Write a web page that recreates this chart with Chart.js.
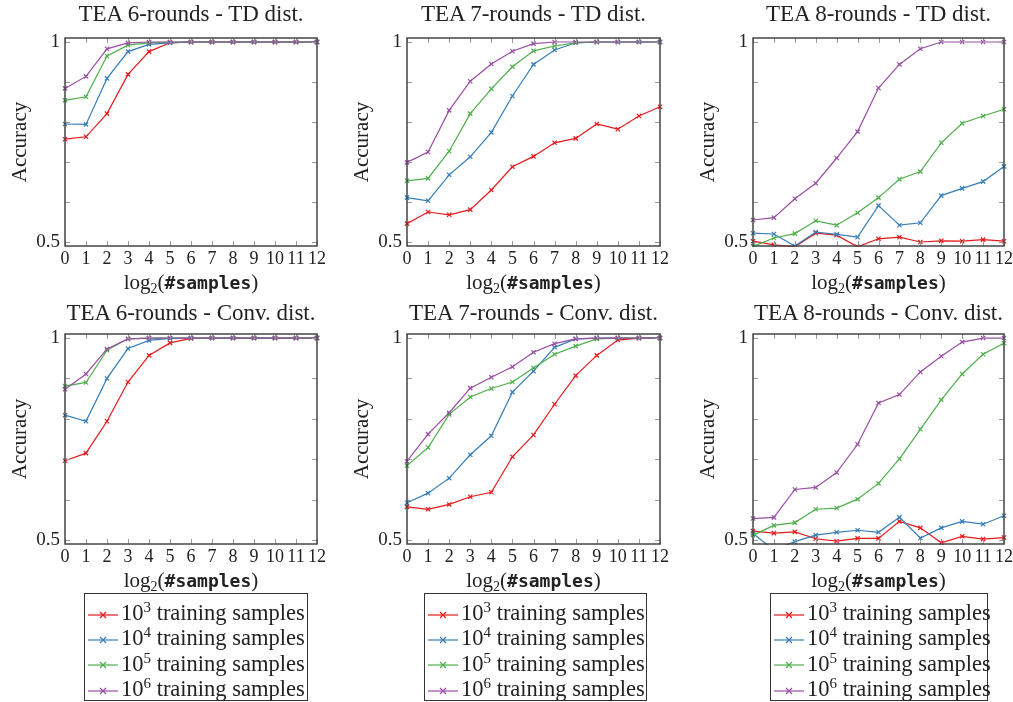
<!DOCTYPE html>
<html lang="en">
<head>
    <meta charset="UTF-8">
    <title>TEA accuracy vs samples</title>
    <script src="https://cdn.jsdelivr.net/npm/chart.js"></script>
    <style>
        body { margin: 0; background: #fff; width: 1013px; height: 702px; position: relative; overflow: hidden; font-family: "Liberation Serif", serif; color: #222; }
        .box { position: absolute; }
        .ttl { position: absolute; font-size: 23px; line-height: 26px; text-align: center; white-space: nowrap; transform: translateX(-50%); }
        .xl { position: absolute; font-size: 21px; white-space: nowrap; transform: translateX(-50%); }
        .xl sub { font-size: 14px; vertical-align: -4px; }
        .tt { font-family: "DejaVu Sans Mono", monospace; font-size: 18px; font-weight: bold; }
        .legend { position: absolute; border: 1px solid #333; background: #fff; padding: 6px 4px 0 3px; font-size: 22.5px; }
        .legend div { height: 25.3px; line-height: 25.3px; white-space: nowrap; }
        .legend svg { vertical-align: middle; margin-right: 3px; }
        .legend sup { font-size: 15px; vertical-align: 8px; line-height: 0; }
    </style>
</head>
<body>
<script>
    // x values: log2(#samples)
    const log2Samples = [0, 1, 2, 3, 4, 5, 6, 7, 8, 9, 10, 11, 12];

    // TEA 6-rounds - TD dist.
    const td6_e3 = [0.757, 0.763, 0.821, 0.919, 0.976, 0.998, 1, 1, 1, 1, 1, 1, 1];
    const td6_e4 = [0.795, 0.794, 0.909, 0.976, 0.994, 0.998, 1, 1, 1, 1, 1, 1, 1];
    const td6_e5 = [0.854, 0.863, 0.965, 0.992, 0.998, 1, 1, 1, 1, 1, 1, 1, 1];
    const td6_e6 = [0.884, 0.914, 0.983, 0.998, 1, 1, 1, 1, 1, 1, 1, 1, 1];

    // TEA 7-rounds - TD dist.
    const td7_e3 = [0.546, 0.575, 0.568, 0.581, 0.630, 0.688, 0.714, 0.748, 0.759, 0.795, 0.782, 0.815, 0.838];
    const td7_e4 = [0.611, 0.603, 0.668, 0.713, 0.774, 0.865, 0.944, 0.980, 0.998, 1, 1, 1, 1];
    const td7_e5 = [0.653, 0.659, 0.727, 0.821, 0.883, 0.938, 0.978, 0.990, 0.998, 1, 1, 1, 1];
    const td7_e6 = [0.699, 0.725, 0.829, 0.902, 0.945, 0.977, 0.996, 1, 1, 1, 1, 1, 1];

    // TEA 8-rounds - TD dist.
    const td8_e3 = [0.502, 0.493, 0.488, 0.522, 0.517, 0.488, 0.508, 0.512, 0.500, 0.503, 0.502, 0.506, 0.502];
    const td8_e4 = [0.522, 0.520, 0.490, 0.525, 0.519, 0.512, 0.591, 0.542, 0.548, 0.616, 0.634, 0.651, 0.689];
    const td8_e5 = [0.489, 0.510, 0.521, 0.553, 0.542, 0.573, 0.611, 0.657, 0.676, 0.748, 0.797, 0.815, 0.832];
    const td8_e6 = [0.555, 0.561, 0.608, 0.647, 0.710, 0.776, 0.885, 0.944, 0.983, 1, 1, 1, 1];

    // TEA 6-rounds - Conv. dist.
    const cv6_e3 = [0.696, 0.715, 0.794, 0.891, 0.957, 0.988, 0.999, 1, 1, 1, 1, 1, 1];
    const cv6_e4 = [0.809, 0.794, 0.900, 0.974, 0.994, 0.999, 1, 1, 1, 1, 1, 1, 1];
    const cv6_e5 = [0.881, 0.890, 0.970, 0.998, 1, 1, 1, 1, 1, 1, 1, 1, 1];
    const cv6_e6 = [0.873, 0.911, 0.973, 0.998, 1, 1, 1, 1, 1, 1, 1, 1, 1];

    // TEA 7-rounds - Conv. dist.
    const cv7_e3 = [0.582, 0.576, 0.588, 0.607, 0.618, 0.706, 0.760, 0.836, 0.907, 0.957, 0.995, 1, 1];
    const cv7_e4 = [0.592, 0.616, 0.653, 0.711, 0.758, 0.866, 0.918, 0.977, 0.998, 1, 1, 1, 1];
    const cv7_e5 = [0.684, 0.729, 0.811, 0.854, 0.875, 0.891, 0.926, 0.960, 0.980, 0.998, 1, 1, 1];
    const cv7_e6 = [0.695, 0.762, 0.815, 0.876, 0.903, 0.929, 0.965, 0.986, 0.998, 1, 1, 1, 1];

    // TEA 8-rounds - Conv. dist.
    const cv8_e3 = [0.522, 0.517, 0.520, 0.503, 0.497, 0.504, 0.504, 0.546, 0.530, 0.493, 0.509, 0.502, 0.506];
    const cv8_e4 = [0.516, 0.475, 0.496, 0.512, 0.519, 0.524, 0.519, 0.556, 0.505, 0.530, 0.546, 0.539, 0.560];
    const cv8_e5 = [0.512, 0.536, 0.543, 0.576, 0.579, 0.601, 0.640, 0.701, 0.774, 0.847, 0.911, 0.960, 0.987];
    const cv8_e6 = [0.553, 0.556, 0.625, 0.630, 0.667, 0.737, 0.839, 0.860, 0.916, 0.955, 0.990, 1, 1];

    const yTicks = [0.5, 0.6, 0.7, 0.8, 0.9, 1];
    const seriesLabels = ['3', '4', '5', '6'];
    const seriesColors = ['#e41a1c', '#377eb8', '#4daf4a', '#984ea3'];

    const panels = [
        { title: 'TEA 6-rounds - TD dist.', col: 0, row: 0, data: [td6_e3, td6_e4, td6_e5, td6_e6] },
        { title: 'TEA 7-rounds - TD dist.', col: 1, row: 0, data: [td7_e3, td7_e4, td7_e5, td7_e6] },
        { title: 'TEA 8-rounds - TD dist.', col: 2, row: 0, data: [td8_e3, td8_e4, td8_e5, td8_e6] },
        { title: 'TEA 6-rounds - Conv. dist.', col: 0, row: 1, data: [cv6_e3, cv6_e4, cv6_e5, cv6_e6] },
        { title: 'TEA 7-rounds - Conv. dist.', col: 1, row: 1, data: [cv7_e3, cv7_e4, cv7_e5, cv7_e6] },
        { title: 'TEA 8-rounds - Conv. dist.', col: 2, row: 1, data: [cv8_e3, cv8_e4, cv8_e5, cv8_e6] }
    ];

    // layout of plot frames (px)
    const colLeft = [65, 407, 753];
    const colRight = [317, 660, 1004];
    const rowTop = [38, 334];
    const rowH = [208, 210];
    const titleTop = [1, 300];
    const Y_AXIS_W = 65, PAD_TOP = 22, PAD_RIGHT = 16, X_AXIS_H = 30;

    // frame + inward ticks like pgfplots
    const frameTicks = {
        id: 'frameTicks',
        afterDatasetsDraw(chart) {
            const { ctx, chartArea: a, scales: { x, y } } = chart;
            ctx.save();
            ctx.strokeStyle = '#999';
            ctx.lineWidth = 1;
            ctx.beginPath();
            log2Samples.forEach(v => {
                const px = Math.round(x.getPixelForValue(v)) + 0.5;
                ctx.moveTo(px, a.bottom); ctx.lineTo(px, a.bottom - 5);
                ctx.moveTo(px, a.top); ctx.lineTo(px, a.top + 5);
            });
            yTicks.forEach(v => {
                const py = Math.round(y.getPixelForValue(v)) + 0.5;
                ctx.moveTo(a.left, py); ctx.lineTo(a.left + 5, py);
                ctx.moveTo(a.right, py); ctx.lineTo(a.right - 5, py);
            });
            ctx.stroke();
            ctx.strokeStyle = '#444';
            ctx.lineWidth = 1.5;
            ctx.strokeRect(a.left, a.top, a.right - a.left, a.bottom - a.top);
            ctx.restore();
        }
    };

    panels.forEach(p => {
        const plotW = colRight[p.col] - colLeft[p.col];
        const plotH = rowH[p.row];
        const box = document.createElement('div');
        box.className = 'box';
        box.style.left = (colLeft[p.col] - Y_AXIS_W) + 'px';
        box.style.top = (rowTop[p.row] - PAD_TOP) + 'px';
        box.style.width = (plotW + Y_AXIS_W + PAD_RIGHT) + 'px';
        box.style.height = (plotH + PAD_TOP + X_AXIS_H) + 'px';
        const cv = document.createElement('canvas');
        box.appendChild(cv);
        document.body.appendChild(box);

        const cx = (colLeft[p.col] + colRight[p.col]) / 2;
        const t = document.createElement('div');
        t.className = 'ttl';
        t.style.left = cx + 'px';
        t.style.top = titleTop[p.row] + 'px';
        t.textContent = p.title;
        document.body.appendChild(t);

        const xl = document.createElement('div');
        xl.className = 'xl';
        xl.style.left = cx + 'px';
        xl.style.top = (rowTop[p.row] + plotH + 24) + 'px';
        xl.innerHTML = 'log<sub>2</sub>(<span class="tt">#samples</span>)';
        document.body.appendChild(xl);

        new Chart(cv, {
            type: 'line',
            data: {
                datasets: p.data.map((vals, i) => ({
                    label: '10^' + seriesLabels[i] + ' training samples',
                    data: vals.map((v, k) => ({ x: log2Samples[k], y: v })),
                    borderColor: seriesColors[i],
                    backgroundColor: seriesColors[i],
                    borderWidth: 1.2,
                    pointStyle: 'crossRot',
                    pointRadius: 3,
                    pointBorderWidth: 1.2,
                    tension: 0,
                    order: 3 - i,
                    clip: { left: 6, right: 6, top: 6, bottom: 1 }
                }))
            },
            options: {
                responsive: true,
                maintainAspectRatio: false,
                animation: false,
                layout: { padding: { top: PAD_TOP, right: PAD_RIGHT, left: 0, bottom: 0 } },
                plugins: { legend: { display: false }, tooltip: { enabled: false } },
                scales: {
                    x: {
                        type: 'linear',
                        min: 0, max: 12,
                        grid: { display: false, drawTicks: false },
                        border: { display: false },
                        afterBuildTicks: s => { s.ticks = log2Samples.map(v => ({ value: v })); },
                        afterFit: s => { s.height = X_AXIS_H; },
                        ticks: { padding: 2, color: '#222', maxRotation: 0, autoSkip: false, font: { family: 'Liberation Serif', size: 18 } }
                    },
                    y: {
                        min: 0.49, max: 1.01,
                        grid: { display: false, drawTicks: false },
                        border: { display: false },
                        afterBuildTicks: s => { s.ticks = yTicks.map(v => ({ value: v })); },
                        afterFit: s => { s.width = Y_AXIS_W; },
                        ticks: {
                            padding: 5, color: '#222',
                            font: { family: 'Liberation Serif', size: 19 },
                            callback: v => (Math.abs(v - 1) < 1e-9 ? '1' : Math.abs(v - 0.5) < 1e-9 ? '0.5' : '')
                        },
                        title: {
                            display: true, text: 'Accuracy', color: '#222',
                            padding: { top: 8, bottom: 0 },
                            font: { family: 'Liberation Serif', size: 21 }
                        }
                    }
                }
            },
            plugins: [frameTicks]
        });
    });

    // legends below each column
    const legLeft = [84, 424, 770];
    const legW = [224, 223, 218];
    legLeft.forEach((lx, c) => {
        const lg = document.createElement('div');
        lg.className = 'legend';
        lg.style.left = lx + 'px';
        lg.style.top = '593px';
        lg.style.width = (legW[c] - 9) + 'px';
        lg.style.height = '100px';
        seriesLabels.forEach((e, i) => {
            const row = document.createElement('div');
            const col = seriesColors[i];
            row.innerHTML = '<svg width="30" height="10"><line x1="0" y1="5" x2="30" y2="5" stroke="' + col +
                '" stroke-width="1.2"/><path d="M12 2 L18 8 M18 2 L12 8" stroke="' + col + '" stroke-width="1.2"/></svg>' +
                '10<sup>' + e + '</sup> training samples';
            lg.appendChild(row);
        });
        document.body.appendChild(lg);
    });
</script>
</body>
</html>
